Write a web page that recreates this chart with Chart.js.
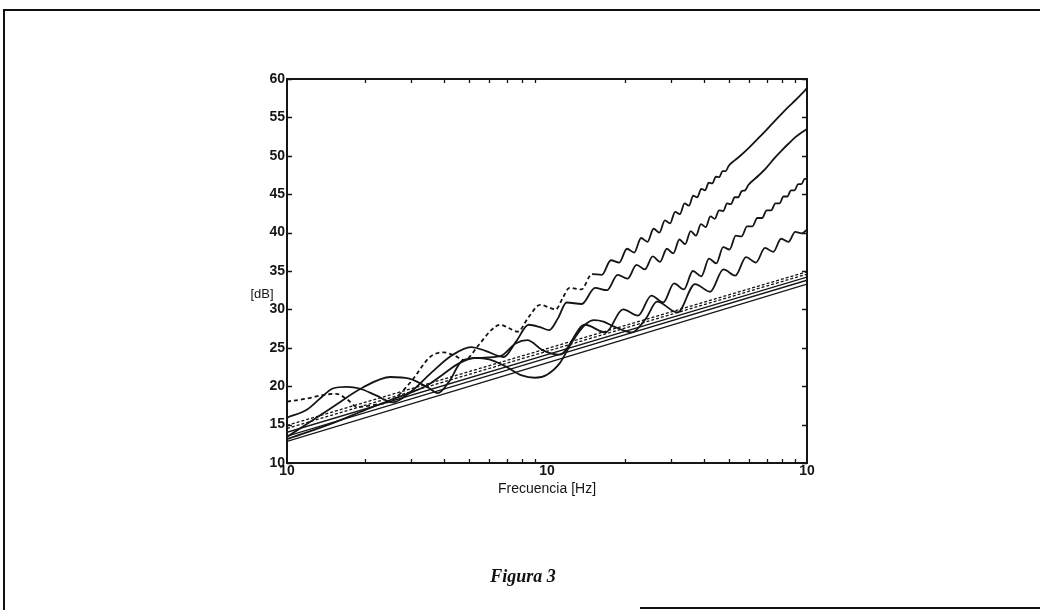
<!DOCTYPE html>
<html>
<head>
<meta charset="utf-8">
<script src="https://cdn.jsdelivr.net/npm/chart.js@4.4.1/dist/chart.umd.min.js"></script>
<style>
  html, body { margin: 0; padding: 0; background: #fff; }
  #wrap { position: relative; width: 1040px; height: 610px; overflow: hidden; background: #fff; }
  #c { position: absolute; left: 0; top: 0; }
  .ln { position: absolute; background: #111; }
  #caption { position: absolute; left: 423px; width: 200px; top: 566px; text-align: center;
    font: bold italic 18px "Liberation Serif", "DejaVu Serif", serif; color: #111; }
</style>
</head>
<body>
<div id="wrap">
  <canvas id="c" width="1040" height="610"></canvas>
  <div class="ln" style="left:3px; top:9px; width:1037px; height:2px;"></div>
  <div class="ln" style="left:3px; top:9px; width:2px; height:601px;"></div>
  <div class="ln" style="left:640px; top:607px; width:400px; height:2px;"></div>
  <div id="caption">Figura 3</div>
</div>
<script>
// ---- Data (frequency in Hz, level in dB) ----
const xTitle = 'Frecuencia [Hz]';
const yTitle = '[dB]';
const xTickValues = [10, 100, 1000];
const xTickLabels = ['10', '10', '10'];
const xMinorTicks = [20, 30, 40, 50, 60, 70, 80, 90, 200, 300, 400, 500, 600, 700, 800, 900];
const yTickValues = [10, 15, 20, 25, 30, 35, 40, 45, 50, 55, 60];
const yTickLabels = ['10', '15', '20', '25', '30', '35', '40', '45', '50', '55', '60'];

// Curve A (dashed at low frequency, top curve)
const freqA = [10, 12, 14, 15.5, 17, 18.6, 22, 25.5, 30, 35.5, 40, 44, 48, 55, 61, 66, 71, 77, 85, 94, 101, 108, 115, 122,
  135.5, 149, 162.5, 176, 189.5, 203, 216.5, 230, 243.5, 257, 270.5, 284, 297.5, 311, 324.5, 338, 351.5, 365, 378.5,
  392, 405.5, 419, 432.5, 446, 459.5, 473, 486.5, 500, 527, 554, 600, 650, 700, 740, 800, 850, 900, 950, 1000];
const dbA = [18.0, 18.4, 18.9, 19.0, 18.3, 17.3, 17.6, 18.2, 20.6, 23.8, 24.4, 24.0, 23.4, 25.5, 27.3, 28.0, 27.6, 27.1, 29.0, 30.6, 30.3, 30.0, 31.5, 32.8,
  32.6, 34.6, 34.5, 36.4, 36.1, 37.9, 37.4, 39.3, 38.8, 40.5, 40.0, 41.6, 41.2, 42.7, 42.4, 43.8, 43.5, 44.8, 44.6,
  45.7, 45.5, 46.5, 46.4, 47.3, 47.2, 48.0, 48.0, 48.7, 49.4, 50.0, 51.1, 52.3, 53.4, 54.3, 55.5, 56.4, 57.2, 58.0, 58.8];

// Curve B (ends near 53 dB)
const freqB = [10, 12, 13.5, 15, 17, 19, 22, 25.5, 30, 36, 43, 51, 58, 68, 76, 85, 94, 102, 110, 119, 136, 153, 170, 187, 204,
  221, 238, 255, 272, 289, 306, 323, 340, 357, 374, 391, 408, 425, 442, 459, 476, 493, 510, 527, 544, 561, 578, 595,
  650, 700, 750, 800, 850, 900, 950, 1000];
const dbB = [15.9, 17.0, 18.5, 19.7, 19.9, 19.7, 18.8, 17.9, 19.3, 21.8, 24.0, 25.1, 24.6, 23.8, 25.8, 28.0, 27.7, 27.3, 28.8, 30.9, 30.7, 32.8, 32.5, 34.5, 34.0,
  35.8, 35.2, 36.9, 36.2, 37.9, 37.3, 39.1, 38.5, 40.2, 39.6, 41.1, 40.7, 42.1, 41.8, 42.9, 42.8, 43.8, 43.7, 44.6, 44.6, 45.4, 45.5, 46.2,
  47.4, 48.5, 49.7, 50.7, 51.6, 52.4, 53.0, 53.5];

// Curve C (ends near 47 dB)
const freqC = [10, 15, 19.5, 25, 29.5, 35, 38, 42, 47.5, 56, 66, 76, 84, 96, 112, 140, 168, 196, 224, 252, 280, 308, 336, 364, 392,
  420, 448, 476, 504, 532, 560, 588, 616, 644, 672, 700, 728, 756, 784, 812, 840, 868, 896, 924, 952, 980, 1000];
const dbC = [13.4, 17.3, 19.8, 21.2, 21.0, 19.8, 19.1, 20.6, 23.4, 23.7, 23.9, 25.6, 26.0, 24.7, 24.1, 28.0, 27.0, 30.0, 29.2, 31.8, 30.9, 33.4, 32.6, 35.0, 34.3,
  36.6, 36.0, 38.1, 37.8, 39.6, 39.5, 40.8, 40.8, 41.9, 41.9, 42.9, 42.9, 43.8, 43.8, 44.7, 44.7, 45.5, 45.5, 46.3, 46.3, 47.0, 47.0];

// Curve D (ends near 40 dB)
const freqD = [10, 15, 20, 25, 30, 35, 40, 46, 53, 60, 70, 80, 90, 100, 112, 125, 140, 152, 165, 180, 212, 240, 265, 318, 371,
  424, 477, 530, 583, 636, 689, 742, 795, 848, 901, 954, 1000];
const dbD = [13.1, 15.2, 16.9, 18.2, 19.2, 20.2, 21.6, 23.0, 23.7, 23.5, 22.5, 21.4, 21.1, 21.5, 23.0, 25.8, 28.0, 28.6, 28.4, 27.8, 27.0, 28.8, 31.0, 29.6, 33.3,
  32.3, 35.2, 34.4, 36.8, 36.1, 38.0, 37.5, 39.2, 38.8, 40.1, 39.9, 40.4];

// Straight bundle lines (endpoints at 10 Hz and 1000 Hz)
const freqLine = [10, 1000];
const dbL1 = [14.9, 34.9];
const dbL2 = [14.5, 34.6];
const dbL3 = [14.0, 34.2];
const dbL4 = [13.5, 33.8];
const dbL5 = [12.8, 33.3];

// ---- Build datasets ----
const INK = '#151515';
const pts = (fx, fy) => fx.map((f, i) => ({ x: f, y: fy[i] }));
const base = { showLine: true, pointRadius: 0, borderColor: INK, fill: false, cubicInterpolationMode: 'monotone' };

const datasets = [
  Object.assign({}, base, { data: pts(freqLine, dbL1), borderWidth: 1.3, borderDash: [3, 2] }),
  Object.assign({}, base, { data: pts(freqLine, dbL2), borderWidth: 1.3, borderDash: [3, 2] }),
  Object.assign({}, base, { data: pts(freqLine, dbL3), borderWidth: 1.3 }),
  Object.assign({}, base, { data: pts(freqLine, dbL4), borderWidth: 1.3 }),
  Object.assign({}, base, { data: pts(freqLine, dbL5), borderWidth: 1.3 }),
  Object.assign({}, base, { data: pts(freqD, dbD), borderWidth: 1.8 }),
  Object.assign({}, base, { data: pts(freqC, dbC), borderWidth: 1.8 }),
  Object.assign({}, base, { data: pts(freqB, dbB), borderWidth: 1.8 }),
  Object.assign({}, base, { data: pts(freqA, dbA), borderWidth: 1.8,
    segment: { borderDash: ctx => (ctx.p0.parsed.x < 140 ? [4, 3] : undefined) } })
];

const framePlugin = {
  id: 'frame',
  afterDatasetsDraw(chart) {
    const { ctx, chartArea: a, scales } = chart;
    const x = scales.x, y = scales.y;
    ctx.save();
    ctx.strokeStyle = INK;
    ctx.lineWidth = 2;
    ctx.strokeRect(a.left, a.top, a.right - a.left, a.bottom - a.top);
    ctx.lineWidth = 1.3;
    ctx.beginPath();
    xMinorTicks.forEach(v => {
      const px = Math.round(x.getPixelForValue(v)) + 0.5;
      ctx.moveTo(px, a.bottom); ctx.lineTo(px, a.bottom - 4);
      ctx.moveTo(px, a.top); ctx.lineTo(px, a.top + 4);
    });
    yTickValues.forEach(v => {
      const py = Math.round(y.getPixelForValue(v)) + 0.5;
      ctx.moveTo(a.left, py); ctx.lineTo(a.left + 5, py);
      ctx.moveTo(a.right, py); ctx.lineTo(a.right - 5, py);
    });
    ctx.stroke();
    ctx.fillStyle = INK;
    ctx.font = '13px "Liberation Sans", Arial, sans-serif';
    ctx.textAlign = 'center';
    ctx.textBaseline = 'middle';
    ctx.fillText(yTitle, a.left - 25, a.top + 215);
    ctx.restore();
  }
};

const tickFont = { family: '"Liberation Sans", Arial, sans-serif', size: 14, weight: 'bold' };

new Chart(document.getElementById('c'), {
  type: 'scatter',
  data: { datasets },
  options: {
    responsive: false,
    animation: false,
    devicePixelRatio: 1,
    layout: { padding: { left: 247, right: 233, top: 79, bottom: 112 } },
    plugins: { legend: { display: false }, tooltip: { enabled: false } },
    scales: {
      x: {
        type: 'logarithmic', min: 10, max: 1000, position: 'bottom',
        grid: { display: false, drawTicks: false }, border: { display: false },
        afterBuildTicks: s => { s.ticks = xTickValues.map(v => ({ value: v })); },
        afterFit: s => { s.height = 35; },
        ticks: { autoSkip: false, maxRotation: 0, minRotation: 0, padding: 0, color: INK, font: tickFont,
          callback: (v, i) => xTickLabels[i] },
        title: { display: true, text: xTitle, color: INK, padding: { top: 0, bottom: 0 },
          font: { family: '"Liberation Sans", Arial, sans-serif', size: 14 } }
      },
      y: {
        type: 'linear', min: 10, max: 60, position: 'left',
        grid: { display: false, drawTicks: false }, border: { display: false },
        afterBuildTicks: s => { s.ticks = yTickValues.map(v => ({ value: v })); },
        afterFit: s => { s.width = 40; },
        ticks: { autoSkip: false, padding: 2, color: INK, font: tickFont,
          callback: (v, i) => yTickLabels[i] }
      }
    }
  },
  plugins: [framePlugin]
});
</script>
</body>
</html>
